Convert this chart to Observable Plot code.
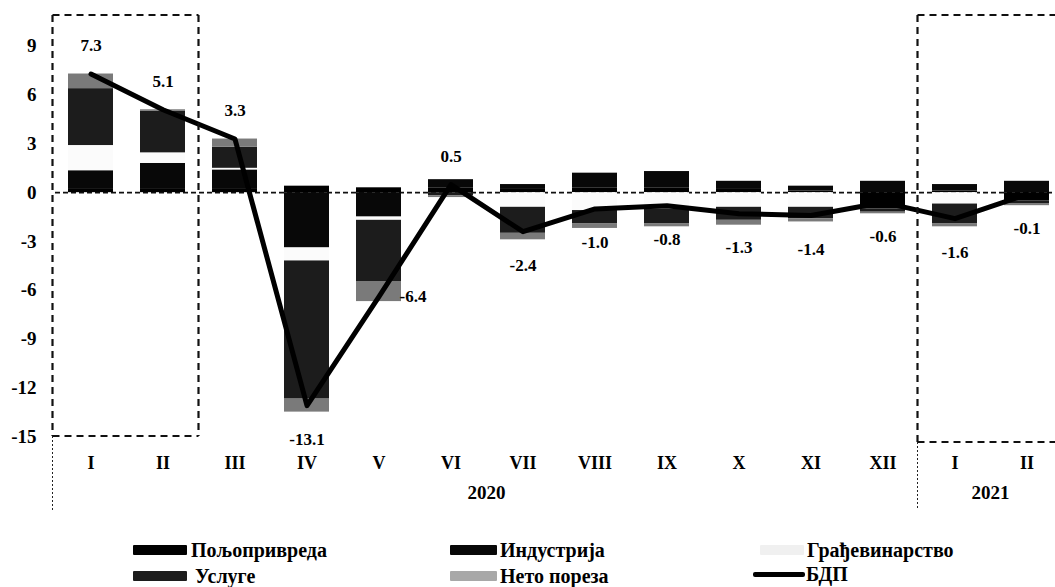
<!DOCTYPE html>
<html><head><meta charset="utf-8">
<script src="https://cdn.jsdelivr.net/npm/d3@7"></script>
<script src="https://cdn.jsdelivr.net/npm/@observablehq/plot@0.6"></script>
<style>
body{margin:0;background:#fff;}
#wrap{position:relative;width:1055px;height:587px;overflow:hidden;font-family:"Liberation Serif","Times New Roman",serif;font-weight:bold;background:#fff;}
#chart{position:absolute;left:0;top:0;}
.lg{position:absolute;font-size:20px;line-height:20px;white-space:nowrap;color:#000;}
.sw{position:absolute;}
</style></head><body><div id="wrap"><div id="chart"></div><div id="legend"></div></div>
<script>
// ---- data ----
const months = ["I","II","III","IV","V","VI","VII","VIII","IX","X","XI","XII","I","II"];
const years = [2020,2020,2020,2020,2020,2020,2020,2020,2020,2020,2020,2020,2021,2021];
const gdp = [7.3,5.1,3.3,-13.1,-6.4,0.5,-2.4,-1.0,-0.8,-1.3,-1.4,-0.6,-1.6,-0.1];
const series = ["Пољопривреда","Индустрија","Грађевинарство","Услуге","Нето пореза"];
const agriculture = [0.2,0.2,0.2,0.4,0.3,0.3,0.2,0.3,0.3,0.2,0.1,-1.0,0.1,-0.5];
const industry = [1.15,1.6,1.2,-3.4,-1.5,0.5,0.3,0.9,1.0,0.5,0.3,0.7,0.4,0.7];
const construction = [1.55,0.65,0.1,-0.8,-0.2,0,-0.9,-1.1,-1.0,-0.9,-0.9,0,-0.7,0];
const services = [3.5,2.55,1.3,-8.5,-3.8,-0.2,-1.6,-0.8,-0.9,-0.8,-0.7,-0.2,-1.2,-0.2];
const taxes = [0.9,0.1,0.5,-0.8,-1.2,-0.1,-0.4,-0.3,-0.2,-0.3,-0.2,-0.1,-0.2,-0.1];
const gdpName = "БДП";
const yTicks = [-15,-12,-9,-6,-3,0,3,6,9];
const colors = ["#000000","#080808","#fbfbfb","#1c1c1c","#7a7a7a"];

// ---- build tables ----
const keys = months.map((m,i) => m + " " + years[i]);
const seriesValues = [agriculture, industry, construction, services, taxes];
const rows = keys.flatMap((k,i) => series.map((s,j) => ({key:k, series:s, value:seriesValues[j][i]})));
const gdpRows = keys.map((k,i) => ({key:k, value:gdp[i]}));
const sideKey = keys[4];
const fmt = v => v.toFixed(1);

function decor(index, scales, values, dims) {
  const x = scales.x, y = scales.y;
  const bw = x.bandwidth ? x.bandwidth() : 45;
  const step = x.step ? x.step() : 72;
  const edge = k => x(k) + bw/2 - step/2;
  const center = k => x(k) + bw/2;
  const g = d3.create("svg:g");
  const top = dims.marginTop, bot = y(-15);
  const thick = {stroke:"#111", "stroke-width":2.2, "stroke-dasharray":"7,5", fill:"none"};
  const thin = {stroke:"#222", "stroke-width":1, "stroke-dasharray":"2,2", fill:"none"};
  const line = (x1,y1,x2,y2,st) => { const l = g.append("line").attr("x1",x1).attr("y1",y1).attr("x2",x2).attr("y2",y2); for (const a in st) l.attr(a, st[a]); };
  const xa = edge(keys[0]) - 2, xb = edge(keys[2]);
  line(xa, top, xb, top, thick); line(xa, top, xa, bot, thick); line(xb, top, xb, bot, thick); line(xa, bot, xb, bot, thick);
  line(xa, bot, xa, 510, thin);
  const firstNew = years.findIndex(v => v !== years[0]);
  const xc = edge(keys[firstNew]) - 1, xd = dims.width + 20, bot2 = bot + 6;
  line(xc, top, xd, top, thick); line(xc, top, xc, bot2, thick); line(xc, bot2, xd, bot2, thick);
  line(xc, bot2, xc, 510, thin);
  for (const yr of Array.from(new Set(years))) {
    const idx = years.map((v,i) => v === yr ? i : -1).filter(i => i >= 0);
    const cx = (center(keys[idx[0]]) + center(keys[idx[idx.length-1]])) / 2;
    g.append("text").attr("x", cx).attr("y", 492).attr("dy","0.35em").attr("text-anchor","middle")
      .attr("font-size", 19).attr("font-weight","bold").attr("fill","#000").text(String(yr));
  }
  return g.node();
}

const chart = Plot.plot({
  width: 1055, height: 530,
  marginLeft: 55, marginRight: 0, marginTop: 15, marginBottom: 94,
  style: {fontFamily: "'Liberation Serif', serif", fontWeight: "bold", overflow: "hidden", background: "#fff", color: "#000"},
  x: {domain: keys, range: [55, 1063], paddingInner: 0.37, paddingOuter: 0.185},
  y: {domain: [-15, 10.9]},
  color: {domain: series, range: colors},
  marks: [
    Plot.ruleY([0], {stroke: "#111", strokeWidth: 1.8, strokeDasharray: "5,3"}),
    Plot.barY(rows, {x: "key", y: "value", fill: "series"}),
    Plot.line(gdpRows, {x: "key", y: "value", stroke: "#000", strokeWidth: 5, strokeLinejoin: "round", strokeLinecap: "round"}),
    Plot.text(gdpRows.filter(d => d.value > 0), {x: "key", y: "value", text: d => fmt(d.value), dy: -28, fontSize: 17, fontWeight: "bold", fill: "#000"}),
    Plot.text(gdpRows.filter(d => d.value < 0 && d.key !== sideKey), {x: "key", y: "value", text: d => fmt(d.value), dy: 34, fontSize: 17, fontWeight: "bold", fill: "#000"}),
    Plot.text(gdpRows.filter(d => d.key === sideKey), {x: "key", y: "value", text: d => fmt(d.value), dx: 34, fontSize: 17, fontWeight: "bold", fill: "#000"}),
    decor,
    Plot.axisX({tickSize: 0, tickPadding: 20, fontSize: 18, label: null, tickFormat: k => k.split(" ")[0]}),
    Plot.axisY({ticks: yTicks, tickSize: 0, tickPadding: 19, fontSize: 19, label: null, tickFormat: d => String(d)})
  ]
});
document.getElementById("chart").appendChild(chart);

// ---- legend ----
const legend = document.getElementById("legend");
const items = [
  {name: series[0], color: colors[0], sx: 133, sw: 54, tx: 191, cy: 550},
  {name: series[1], color: colors[1], sx: 450, sw: 47, tx: 500, cy: 550},
  {name: series[2], color: "#f0f0f0", sx: 760, sw: 44, tx: 807, cy: 550},
  {name: series[3], color: colors[3], sx: 133, sw: 54, tx: 195, cy: 576},
  {name: series[4], color: "#a8a8a8", sx: 450, sw: 47, tx: 500, cy: 576},
  {name: gdpName, color: "#000", sx: 753, sw: 52, tx: 806, cy: 574, line: true}
];
for (const it of items) {
  const s = document.createElement("div");
  s.className = "sw";
  const h = it.line ? 5 : 10;
  s.style.cssText = `left:${it.sx}px;top:${it.cy - h/2}px;width:${it.sw}px;height:${h}px;background:${it.color};border-radius:${it.line?2:1}px;`;
  legend.appendChild(s);
  const t = document.createElement("div");
  t.className = "lg";
  t.style.left = it.tx + "px";
  t.style.top = (it.cy - 10) + "px";
  t.textContent = it.name;
  legend.appendChild(t);
}
</script></body></html>
